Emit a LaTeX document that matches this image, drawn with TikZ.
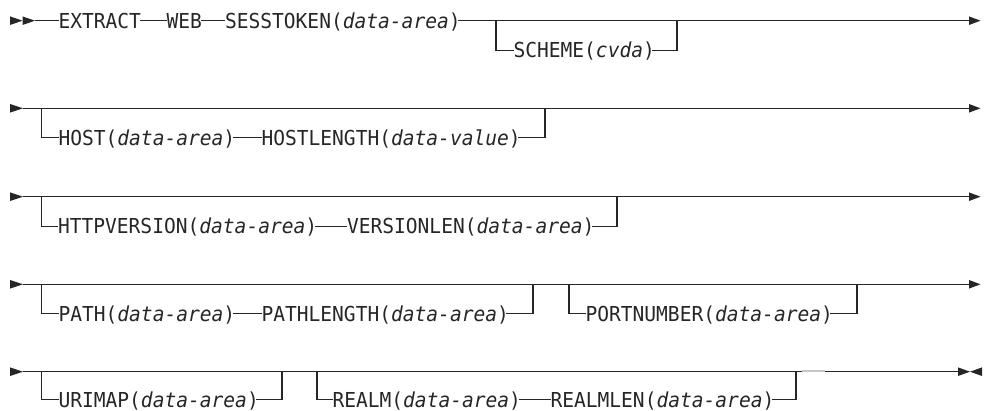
\documentclass[tikz,border=0pt]{standalone}
\usepackage{fontspec}
\setmonofont{DejaVu Sans Mono}[FakeStretch=0.95]
\definecolor{ink}{HTML}{262626}
\begin{document}
\begin{tikzpicture}[x=1pt,y=-1pt,
  tok/.style={anchor=west,inner sep=0pt,outer sep=0pt,text height=15pt,text depth=0pt,
    font=\ttfamily\fontsize{20.6pt}{21pt}\selectfont,text=ink},
  rail/.style={draw=ink,line width=1.25pt},
  tipfill/.style={fill=ink}]
\useasboundingbox (0,0) rectangle (984,411);

% ---------- Row 1 ----------
\fill[tipfill] (10,16.4) -- (22.5,20.7) -- (10,25) -- cycle;
\fill[tipfill] (22.5,16.4) -- (35,20.7) -- (22.5,25) -- cycle;
\coordinate (r1s) at (35,20.7);
\coordinate (r1e) at (969,20.7);
\fill[tipfill] (969,16.4) -- (980.5,20.7) -- (969,25) -- cycle;
\node[tok] (extract) at (58.5,20.7) {EXTRACT};
\node[tok] (web) at (166.5,20.7) {WEB};
\node[tok] (sess) at (225,20.7) {SESSTOKEN(\textit{data-area})};
\draw[rail] (r1s) -- (extract.west);
\draw[rail] ([xshift=-1pt]extract.east) -- (web.west);
\draw[rail] ([xshift=-1pt]web.east) -- (sess.west);
\draw[rail] ([xshift=-2.5pt]sess.east) -- (r1e);
\coordinate (b1a) at (496,20.7);
\coordinate (b1b) at (677,20.7);
\node[tok] (scheme) at (513.5,50.2) {SCHEME(\textit{cvda})};
\draw[rail] (b1a) |- (scheme.west);
\draw[rail] ([xshift=-2.5pt]scheme.east) -| (b1b);

% ---------- Row 2 ----------
\fill[tipfill] (10,104) -- (23,108.3) -- (10,112.6) -- cycle;
\coordinate (r2s) at (23,108.3);
\coordinate (r2e) at (969,108.3);
\fill[tipfill] (969,104) -- (980.5,108.3) -- (969,112.6) -- cycle;
\draw[rail] (r2s) -- (r2e);
\coordinate (b2a) at (41.7,108.3);
\coordinate (b2b) at (545,108.3);
\node[tok] (host) at (58.5,137.8) {HOST(\textit{data-area})};
\node[tok] (hostlen) at (261.5,137.8) {HOSTLENGTH(\textit{data-value})};
\draw[rail] (b2a) |- (host.west);
\draw[rail] ([xshift=-2.5pt]host.east) -- (hostlen.west);
\draw[rail] ([xshift=-2.5pt]hostlen.east) -| (b2b);

% ---------- Row 3 ----------
\fill[tipfill] (10,192.4) -- (23,196.7) -- (10,201) -- cycle;
\coordinate (r3s) at (23,196.7);
\coordinate (r3e) at (969,196.7);
\fill[tipfill] (969,192.4) -- (980.5,196.7) -- (969,201) -- cycle;
\draw[rail] (r3s) -- (r3e);
\coordinate (b3a) at (41.7,196.7);
\coordinate (b3b) at (617,196.7);
\node[tok] (http) at (58,226.2) {HTTPVERSION(\textit{data-area})};
\node[tok] (verlen) at (347,226.2) {VERSIONLEN(\textit{data-area})};
\draw[rail] (b3a) |- (http.west);
\draw[rail] ([xshift=-2.5pt]http.east) -- (verlen.west);
\draw[rail] ([xshift=-2.5pt]verlen.east) -| (b3b);

% ---------- Row 4 ----------
\fill[tipfill] (10,280) -- (23,284.3) -- (10,288.6) -- cycle;
\coordinate (r4s) at (23,284.3);
\coordinate (r4e) at (969,284.3);
\fill[tipfill] (969,280) -- (980.5,284.3) -- (969,288.6) -- cycle;
\draw[rail] (r4s) -- (r4e);
\coordinate (b4a) at (41.7,284.3);
\coordinate (b4b) at (533,284.3);
\node[tok] (path) at (58.5,313.8) {PATH(\textit{data-area})};
\node[tok] (pathlen) at (261.5,313.8) {PATHLENGTH(\textit{data-area})};
\draw[rail] (b4a) |- (path.west);
\draw[rail] ([xshift=-2.5pt]path.east) -- (pathlen.west);
\draw[rail] ([xshift=-2.5pt]pathlen.east) -| (b4b);
\coordinate (b4c) at (569,284.3);
\coordinate (b4d) at (857,284.3);
\node[tok] (port) at (585.5,313.8) {PORTNUMBER(\textit{data-area})};
\draw[rail] (b4c) |- (port.west);
\draw[rail] ([xshift=-2.5pt]port.east) -| (b4d);

% ---------- Row 5 ----------
\fill[tipfill] (10,367.4) -- (23,371.7) -- (10,376) -- cycle;
\coordinate (r5s) at (23,371.7);
\coordinate (r5e) at (958,371.7);
\fill[tipfill] (958,367.4) -- (970,371.7) -- (958,376) -- cycle;
\fill[tipfill] (982,367.4) -- (970,371.7) -- (982,376) -- cycle;
\draw[rail] (r5s) -- (r5e);
\coordinate (b5a) at (41.7,371.7);
\coordinate (b5b) at (282,371.7);
\node[tok] (urimap) at (58.5,399.8) {URIMAP(\textit{data-area})};
\draw[rail] (b5a) |- (urimap.west);
\draw[rail] ([xshift=-2.5pt]urimap.east) -| (b5b);
\coordinate (b5c) at (317,371.7);
\coordinate (b5d) at (796,371.7);
\node[tok] (realm) at (332.5,399.8) {REALM(\textit{data-area})};
\node[tok] (realmlen) at (550.5,399.8) {REALMLEN(\textit{data-area})};
\draw[rail] (b5c) |- (realm.west);
\draw[rail] ([xshift=-2.5pt]realm.east) -- (realmlen.west);
\draw[rail] ([xshift=-2.5pt]realmlen.east) -| (b5d);
\draw[gray!45,line width=1.4pt] (802,370.9) -- (825,370.9);
\end{tikzpicture}
\end{document}
